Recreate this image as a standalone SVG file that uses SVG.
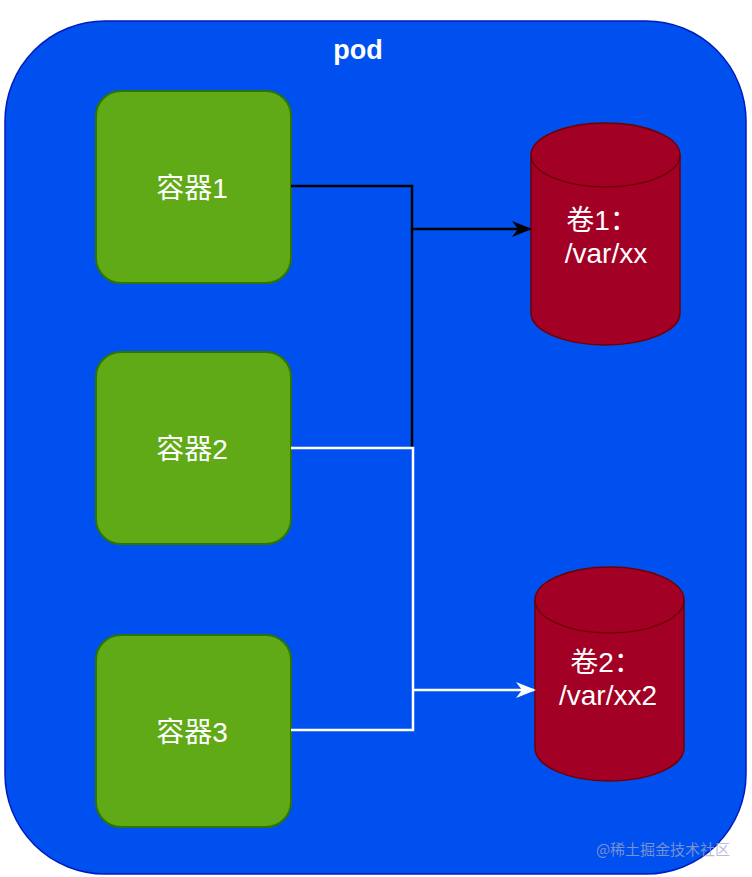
<svg xmlns="http://www.w3.org/2000/svg" width="752" height="877" viewBox="0 0 752 877">
<style>
.box{fill:#60A917;stroke:#2D7600;stroke-width:2}
.vol{fill:#A20025;stroke:#6F0000;stroke-width:1.5}
.lbl{font-family:"Liberation Sans","Noto Sans CJK SC",sans-serif;font-size:28px;fill:#ffffff;text-anchor:middle}
.edge{fill:none;stroke-width:2.5}
</style>
<defs>
<marker id="ab" viewBox="0 0 10 10" refX="9" refY="5" markerWidth="20" markerHeight="16" markerUnits="userSpaceOnUse" orient="auto" preserveAspectRatio="none"><path d="M0,0 L10,5 L0,10 L3,5 Z" fill="#000000"/></marker>
<marker id="aw" viewBox="0 0 10 10" refX="9" refY="5" markerWidth="20" markerHeight="16" markerUnits="userSpaceOnUse" orient="auto" preserveAspectRatio="none"><path d="M0,0 L10,5 L0,10 L3,5 Z" fill="#ffffff"/></marker>
</defs>
<rect width="752" height="877" fill="#ffffff"/>
<g id="pod">
<rect x="5" y="21" width="741" height="853" rx="100" ry="100" fill="#0050EF" stroke="#001DBC" stroke-width="1.5"/>
<text x="358" y="59" class="lbl" style="font-weight:bold;font-size:27px">pod</text>
</g>
<g id="container1">
<rect class="box" x="96" y="91" width="195" height="192" rx="25"/>
<text class="lbl" x="192" y="198">容器1</text>
</g>
<g id="container2">
<rect class="box" x="96" y="352" width="195" height="192" rx="25"/>
<text class="lbl" x="192" y="459">容器2</text>
</g>
<g id="container3">
<rect class="box" x="96" y="635" width="195" height="192" rx="25"/>
<text class="lbl" x="192" y="742">容器3</text>
</g>
<g id="volume1">
<path class="vol" d="M531,155 A74.5,32 0 0 1 680,155 V313 A74.5,32 0 0 1 531,313 Z"/>
<path class="vol" d="M531,155 A74.5,32 0 0 0 680,155" fill="none"/>
<text class="lbl" x="602" y="230">卷1：</text>
<text class="lbl" x="606" y="263">/var/xx</text>
</g>
<g id="volume2">
<path class="vol" d="M535,600 A74.5,33 0 0 1 684,600 V748 A74.5,33 0 0 1 535,748 Z"/>
<path class="vol" d="M535,600 A74.5,33 0 0 0 684,600" fill="none"/>
<text class="lbl" x="606" y="672">卷2：</text>
<text class="lbl" x="608" y="705">/var/xx2</text>
</g>
<g id="connectors">
<path class="edge" stroke="#000000" d="M291,186 H412 V448"/>
<path class="edge" stroke="#000000" d="M412,229 H530" marker-end="url(#ab)"/>
<path class="edge" stroke="#ffffff" d="M291,448 H413 V730 H291"/>
<path class="edge" stroke="#ffffff" d="M413,690 H534" marker-end="url(#aw)"/>
</g>
<text x="663" y="855" style="font-family:'Noto Sans CJK SC',sans-serif;font-size:15px;fill:#a0a8c8;fill-opacity:0.75;text-anchor:middle">@稀土掘金技术社区</text>
</svg>
